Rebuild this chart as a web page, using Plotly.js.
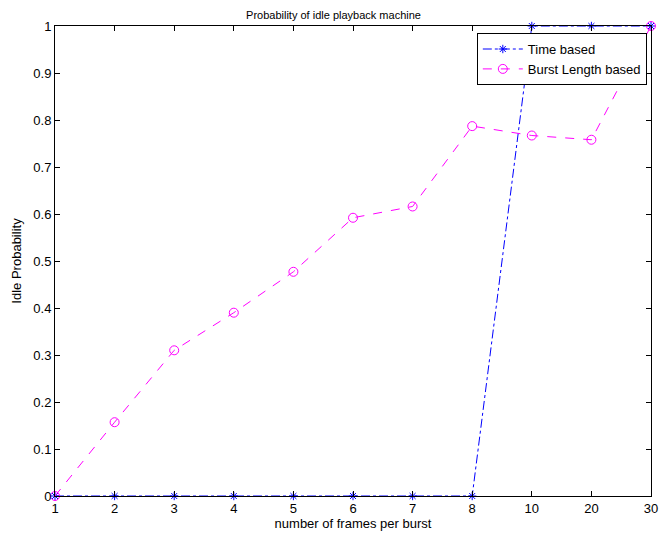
<!DOCTYPE html>
<html>
<head>
<meta charset="utf-8">
<script src="https://cdn.plot.ly/plotly-3.0.1.min.js"></script>
<style>html,body{margin:0;padding:0;background:#fff;}#chart{width:667px;height:536px;}</style>
</head>
<body>
<div id="chart"></div>
<script>
const frames = ["1","2","3","4","5","6","7","8","10","20","30"];
const timeBased = [0,0,0,0,0,0,0,0,1,1,1];
const burstBased = [0,0.157,0.31,0.39,0.477,0.592,0.616,0.787,0.767,0.758,1.0];

const traces = [
  {x: frames, y: timeBased, name: "Time based", type: "scatter", mode: "lines+markers",
   line: {color: "#0000ff", width: 1, dash: "dashdot"},
   marker: {symbol: "asterisk-open", size: 7, color: "#0000ff", line: {color: "#0000ff", width: 1}},
   cliponaxis: false},
  {x: frames, y: burstBased, name: "Burst Length based", type: "scatter", mode: "lines+markers",
   line: {color: "#ff00ff", width: 1, dash: "dash"},
   marker: {symbol: "circle-open", size: 9, color: "#ff00ff", line: {color: "#ff00ff", width: 1}},
   cliponaxis: false}
];

const layout = {
  width: 667, height: 536,
  margin: {l: 55, r: 16, t: 26, b: 40},
  paper_bgcolor: "#fff", plot_bgcolor: "#fff",
  font: {family: "Liberation Sans, Arial, sans-serif", size: 13, color: "#000"},
  title: {text: "Probability of idle playback machine", font: {size: 11}, x: 0.5, xanchor: "center", y: 1, yref: "paper", yanchor: "bottom", pad: {b: 7}},
  xaxis: {type: "category", range: [0, 10], showgrid: false, zeroline: false,
          showline: true, linecolor: "#000", linewidth: 1, mirror: "ticks",
          ticks: "inside", ticklen: 5, tickcolor: "#000", tickfont: {size: 13},
          title: {text: "number of frames per burst", font: {size: 13}, standoff: 3}},
  yaxis: {range: [0, 1], dtick: 0.1, showgrid: false, zeroline: false,
          showline: true, linecolor: "#000", linewidth: 1, mirror: "ticks",
          ticks: "inside", ticklen: 5, tickcolor: "#000", tickfont: {size: 13},
          tickformat: "~g",
          title: {text: "Idle Probability", font: {size: 13}, standoff: 8}},
  legend: {x: 0.993, y: 0.985, xanchor: "right", yanchor: "top", bgcolor: "#fff",
           bordercolor: "#000", borderwidth: 1, font: {size: 13}, tracegroupgap: 0,
           itemwidth: 40},
  showlegend: true
};

Plotly.newPlot("chart", traces, layout, {displayModeBar: false, staticPlot: true});
</script>
</body>
</html>
